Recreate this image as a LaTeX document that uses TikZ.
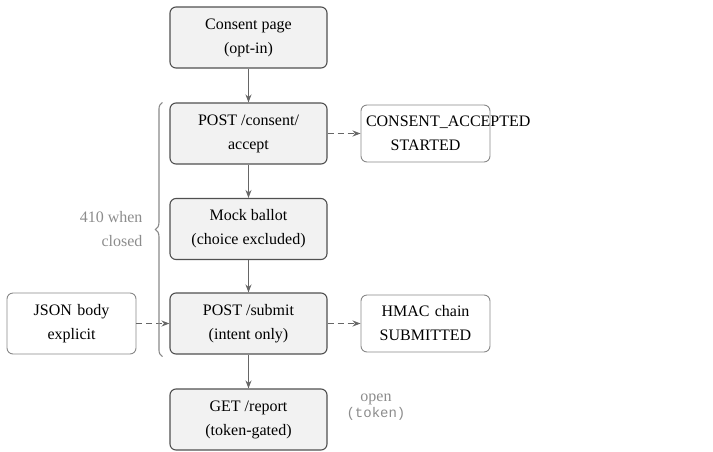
\documentclass[tikz,border=0pt]{standalone}
\usepackage{fontspec}
\setmainfont{Liberation Serif}
\setmonofont{Liberation Mono}
\usetikzlibrary{arrows,arrows.meta,calc,positioning,decorations.pathreplacing}
\definecolor{boxfill}{HTML}{F2F2F2}
\definecolor{edgegray}{HTML}{505050}
\definecolor{sidegray}{HTML}{888888}
\definecolor{arrowgray}{HTML}{666666}
\definecolor{notegray}{HTML}{8C8C8C}
\newcommand{\boxfont}{\fontsize{16}{24}\selectfont}

\begin{document}
\begin{tikzpicture}[x=1pt, y=1pt,
  stage/.style={draw=edgegray, line width=1.1pt, rounded corners=6pt, fill=boxfill, minimum width=157pt, minimum height=61pt, align=center, font=\boxfont},
  side/.style={draw=sidegray, line width=0.9pt, rounded corners=6pt, fill=white, text width=119pt, inner xsep=5pt, minimum height=57pt, align=center, font=\boxfont},
  arr/.style={->, >={Stealth[length=8pt, width=6pt]}, line width=1.7pt, draw=arrowgray},
  darr/.style={arr, dash pattern=on 6pt off 4pt},
  note/.style={font=\boxfont, text=notegray},
]
\useasboundingbox (0,0) rectangle (713,-451);
\node[stage] (consent) at (248.5,-37.5) {Consent page\\(opt-in)};
\node[stage] (accept) at (248.5,-133.5) {POST /consent/\\accept};
\node[stage] (ballot) at (248.5,-229) {Mock ballot\\(choice excluded)};
\node[stage] (submit) at (248.5,-323.5) {POST /submit\\(intent only)};
\node[stage] (report) at (248.5,-419.5) {GET /report\\(token-gated)};
\draw[arr] (consent) -- (accept);
\draw[arr] (accept) -- (ballot);
\draw[arr] (ballot) -- (submit);
\draw[arr] (submit) -- (report);
% Side events
\node[side] (started) at (425.5,-133.5) {CONSENT\_ACCEPTED\\STARTED};
\node[side] (hmac) at (425.5,-323.5) {HMAC chain\\SUBMITTED};
\node[side, minimum height=61pt] (json) at (71.5,-323.5) {JSON body\\explicit};
\draw[darr] (accept) -- (started);
\draw[darr] (submit) -- (hmac);
\draw[darr] (json) -- (submit);
% Closed window
\coordinate (bracelo) at ($(submit.south west)+(-7,-2)$);
\coordinate (bracehi) at ($(accept.north west)+(-7,0)$);
\draw[decorate, decoration={brace, amplitude=7pt}, draw=sidegray, line width=1.1pt] (bracelo) -- (bracehi);
\node[note, align=right, anchor=east] (closed) at (146,-229.5) {410 when\\closed};
\node[note, align=center] (open) at (376,-407) {open\\[-8pt]{\ttfamily\fontsize{14}{16}\selectfont (token)}};
\end{tikzpicture}
\end{document}
